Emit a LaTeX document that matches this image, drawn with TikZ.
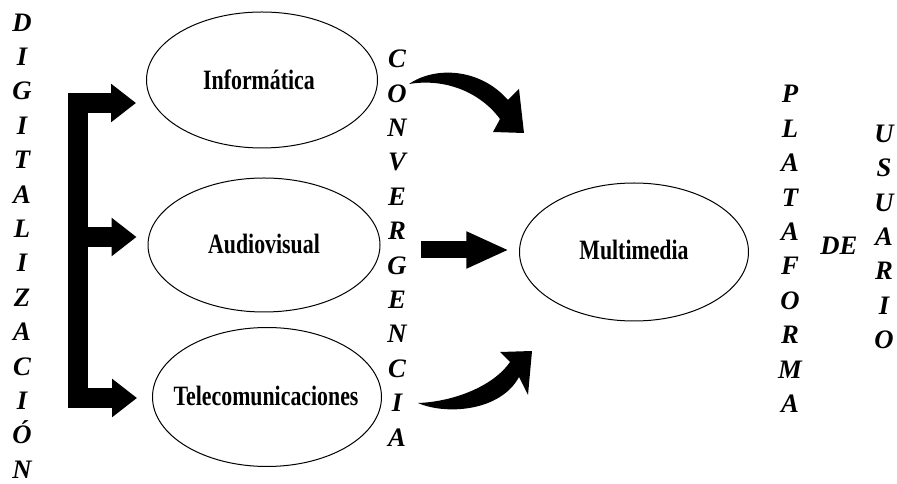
\documentclass[tikz,border=0pt]{standalone}
\usepackage{fontspec}
\setmainfont{Liberation Serif}
\newfontfamily\lblfont[FakeStretch=0.78]{Liberation Serif}
\usetikzlibrary{shapes.geometric,arrows.meta}
\tikzset{
  oval/.style={ellipse, draw, line width=0.75pt, inner sep=0pt},
  lbl/.style={font=\lblfont\bfseries\fontsize{21}{24}\selectfont, inner sep=0pt},
  column/.style={font=\bfseries\itshape\fontsize{20}{25.8}\selectfont, align=center, inner sep=0pt},
  bracketline/.style={line width=15pt, line cap=butt},
  fatarrow/.style={line width=15pt, -{Triangle[length=18.75pt, width=27.75pt]}},
  midarrow/.style={line width=12.75pt, -{Triangle[length=32pt, width=25.5pt]}},
}
\begin{document}
\begin{tikzpicture}[x=0.75pt,y=-0.75pt]
\useasboundingbox[fill=white] (0,0) rectangle (897,484);

% ellipses
\node[oval, minimum width=173.25pt, minimum height=102pt] (inf) at (262,80) {};
\node[lbl] (infl) at (259,80) {Informática};
\node[oval, minimum width=174pt, minimum height=100.5pt] (aud) at (264,245) {};
\node[lbl] (audl) at (264,244) {Audiovisual};
\node[oval, minimum width=171.75pt, minimum height=104.25pt] (tel) at (267,397) {};
\node[lbl] (tell) at (266,396) {Telecomunicaciones};
\node[oval, minimum width=171.75pt, minimum height=103.5pt] (mul) at (634,252) {};
\node[lbl] (mull) at (634,250) {Multimedia};

% vertical words
\node[column] (dig) at (22,246) {D\\I\\G\\I\\T\\A\\L\\I\\Z\\A\\C\\I\\Ó\\N};
\node[column] (conv) at (397,248) {C\\O\\N\\V\\E\\R\\G\\E\\N\\C\\I\\A};
\node[column] (plat) at (790,249) {P\\L\\A\\T\\A\\F\\O\\R\\M\\A};
\node[column] (de) at (839,246) {DE};
\node[column] (usu) at (884,237) {U\\S\\U\\A\\R\\I\\O};

% bracket with arrows
\coordinate (btop) at (78,93);
\coordinate (bbot) at (78,408);
\draw[bracketline] (btop) -- (bbot);
\coordinate (d1) at (70,103);
\coordinate (d2) at (70,237);
\coordinate (d3) at (70,398);
\draw[fatarrow, shorten >=7.5pt] (d1) -- (d1 -| inf.west);
\draw[fatarrow, shorten >=8.25pt] (d2) -- (d2 -| aud.west);
\draw[fatarrow, shorten >=11.25pt] (d3) -- (d3 -| tel.west);

% middle arrow
\coordinate (c2) at (421,250);
\draw[midarrow, shorten >=7.5pt] (c2) -- (c2 -| mul.west);

% curved arrows
\fill (409,84) .. controls (435,66) and (480,68) .. (508,100) -- (519,89) -- (524,133)
  -- (493,132) -- (500,119) .. controls (480,92) and (445,78) .. (409,84) -- cycle;
\fill (418,403) .. controls (445,415) and (500,412) .. (519,377) -- (528,395) -- (532,351)
  -- (500,352) -- (510,362) .. controls (492,388) and (450,402) .. (418,403) -- cycle;
\end{tikzpicture}
\end{document}
